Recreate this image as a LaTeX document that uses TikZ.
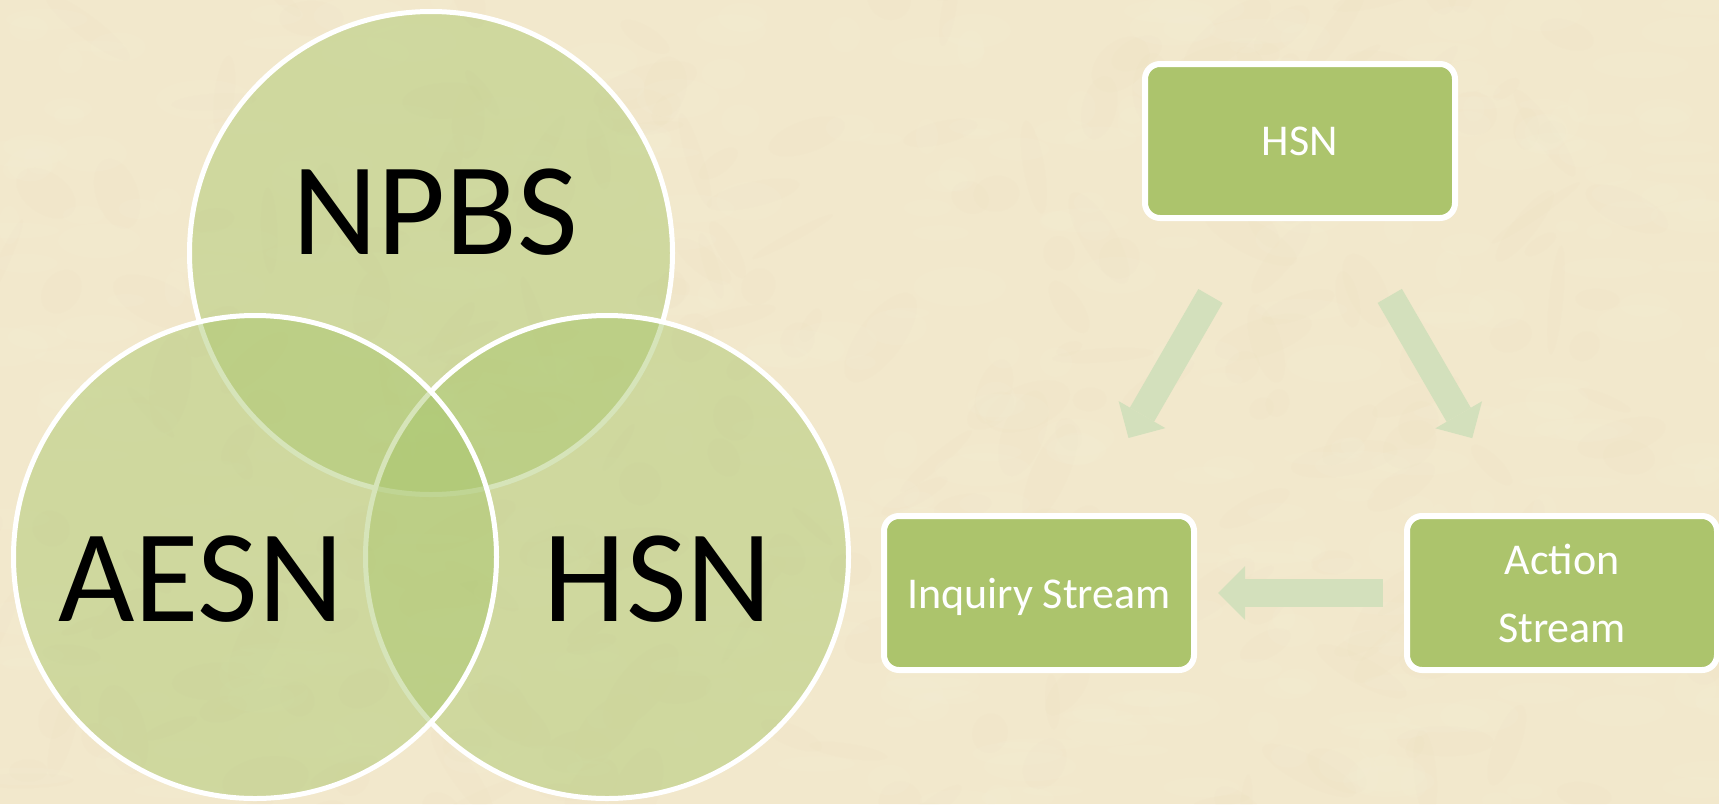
\documentclass[tikz,border=0pt]{standalone}
\usepackage{fontspec}
\setmainfont{Carlito}
\usetikzlibrary{arrows.meta}

\definecolor{paper}{RGB}{242,232,204}
\definecolor{paperdark}{RGB}{222,206,170}
\definecolor{paperlight}{RGB}{252,246,228}
\definecolor{venngreen}{RGB}{168,198,108}
\definecolor{boxgreen}{RGB}{172,196,108}
\definecolor{flowgreen}{RGB}{211,224,188}

\begin{document}
\begin{tikzpicture}[
            x = 1pt, y = -1pt,
            every node/.style={text depth=0pt},
            venn/.style={circle, draw=white, line width=5pt, fill=venngreen, fill opacity=.47, minimum size=483pt, inner sep=0pt},
            big/.style={anchor=base, font=\fontsize{132}{158}\selectfont},
            stream/.style={rectangle, rounded corners=15pt, draw=white, line width=6pt, fill=boxgreen, text=white, minimum width=310pt, minimum height=154pt, align=center, font=\fontsize{44}{68}\selectfont},
            flow/.style={draw=flowgreen, line width=28pt, shorten <=179pt, shorten >=179pt, -{Triangle[width=54pt, length=27pt, line width=0pt]}},
            ]

        % parchment
        \useasboundingbox (0,0) rectangle (1719,804);
        \fill[paper] (0,0) rectangle (1719,804);
        \begin{scope}
            \clip (0,0) rectangle (1719,804);
            \pgfmathsetseed{41}
            \foreach \i in {1,...,600}
                \fill[paperdark, opacity=.04, rotate around={rnd*180:({rnd*1719},{rnd*804})}] ({rnd*1719},{rnd*804}) ellipse ({10+rnd*45} and {5+rnd*18});
            \foreach \i in {1,...,400}
                \fill[paperlight, opacity=.08] ({rnd*1719},{rnd*804}) ellipse ({10+rnd*40} and {5+rnd*15});
        \end{scope}

        % three overlapping networks
        \node[venn] (npbs) at (431,253) {};
        \node[venn] (hsnc) at (607,557) {};
        \node[venn] (aesn) at (255,557) {};
        \node[big] (npbslabel) at (435,254) {NPBS};
        \node[big] (aesnlabel) at (201,621) {AESN};
        \node[big] (hsnlabel) at (658,621) {HSN};

        % the cycle of streams
        \node[stream] (hsn) at (1300,141) {HSN};
        \node[stream] (inquiry) at (1039,593) {Inquiry Stream};
        \node[stream] (action) at (1562,593) {Action\\Stream};

        \draw[flow] (hsn.center) -- (inquiry.center);
        \draw[flow] (hsn.center) -- (action.center);
        \draw[flow] (action.center) -- (inquiry.center);

    \end{tikzpicture}
\end{document}
